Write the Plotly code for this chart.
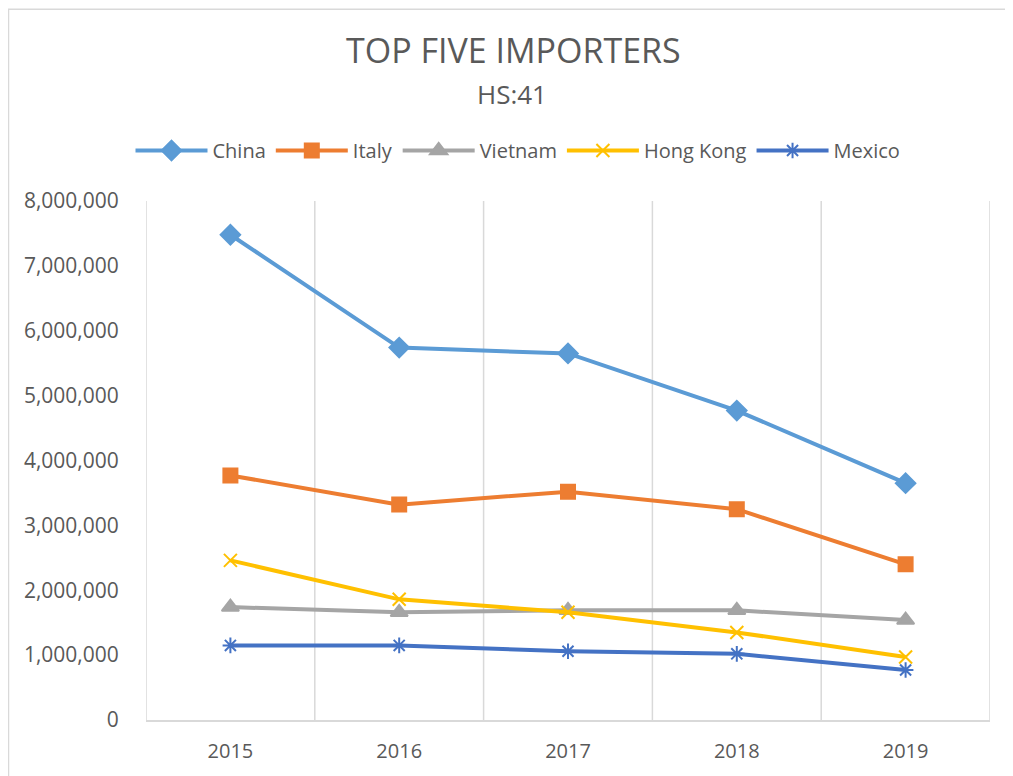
import plotly.graph_objects as go

years = ["2015", "2016", "2017", "2018", "2019"]
china = [7480000, 5740000, 5650000, 4770000, 3650000]
italy = [3770000, 3320000, 3520000, 3250000, 2400000]
vietnam = [1740000, 1660000, 1690000, 1690000, 1540000]
hong_kong = [2460000, 1860000, 1660000, 1350000, 970000]
mexico = [1150000, 1150000, 1060000, 1020000, 770000]

series = [
    ("China", china, "#5B9BD5", "diamond", 15),
    ("Italy", italy, "#ED7D31", "square", 14),
    ("Vietnam", vietnam, "#A5A5A5", "triangle-up", 15),
    ("Hong Kong", hong_kong, "#FFC000", "x-thin-open", 13),
    ("Mexico", mexico, "#4472C4", "asterisk-open", 13),
]

xpos = list(range(1, len(years) + 1))
fig = go.Figure()
for name, vals, color, sym, size in series:
    fig.add_trace(go.Scatter(
        x=xpos, y=vals, name=name, mode="lines+markers",
        line=dict(color=color, width=4),
        marker=dict(symbol=sym, size=size, color=color,
                    line=dict(color=color, width=2)),
    ))

OFF = 8  # page offset of the figure
W, H = 1013 - OFF, 776 - OFF
L, R, T, B = 146 - OFF, 23, 201 - OFF, 51
pw, ph = W - L - R, H - T - B

def px(xp):
    return (xp - OFF - L) / pw

def py(yp):
    return (H - B - (yp - OFF)) / ph

grid = "#D9D9D9"
shapes = []
for i in range(len(years) + 1):
    xv = 0.5 + i
    shapes.append(dict(type="line", xref="x", yref="paper", x0=xv, x1=xv,
                       y0=0, y1=1, line=dict(color=grid, width=1.5), layer="below"))
# chart border
shapes.append(dict(type="rect", xref="paper", yref="paper",
                   x0=px(8.5), x1=px(1030), y0=py(790), y1=py(7.5),
                   line=dict(color=grid, width=1.5), layer="below"))

tc = "#595959"
fig.update_layout(
    width=W, height=H,
    margin=dict(l=L, r=R, t=T, b=B),
    paper_bgcolor="white", plot_bgcolor="white",
    shapes=shapes,
    showlegend=True,
    legend=dict(orientation="h", x=px(518), xanchor="center",
                y=py(150), yanchor="middle",
                font=dict(family="Open Sans", size=20, color=tc),
                itemwidth=72),
    annotations=[
        dict(text="TOP FIVE IMPORTERS", xref="paper", yref="paper",
             x=px(513), y=py(49), xanchor="center", yanchor="middle",
             showarrow=False, font=dict(family="Open Sans", size=34, color=tc)),
        dict(text="HS:41", xref="paper", yref="paper",
             x=px(512), y=py(93), xanchor="center", yanchor="middle",
             showarrow=False, font=dict(family="Open Sans", size=26, color=tc)),
    ],
    xaxis=dict(range=[0.5, len(years) + 0.5], tickvals=xpos, ticktext=years,
               showgrid=False, zeroline=False, showline=True,
               linecolor=grid, linewidth=1.5,
               ticks="outside", ticklen=12, tickcolor="rgba(0,0,0,0)",
               tickfont=dict(family="Open Sans", size=20, color=tc)),
    yaxis=dict(range=[0, 8000000], dtick=1000000, tickformat=",",
               showgrid=False, zeroline=False, showline=False,
               ticks="outside", ticklen=22, tickcolor="rgba(0,0,0,0)",
               tickfont=dict(family="Open Sans", size=21, color=tc)),
)

fig.write_html("out.html")
